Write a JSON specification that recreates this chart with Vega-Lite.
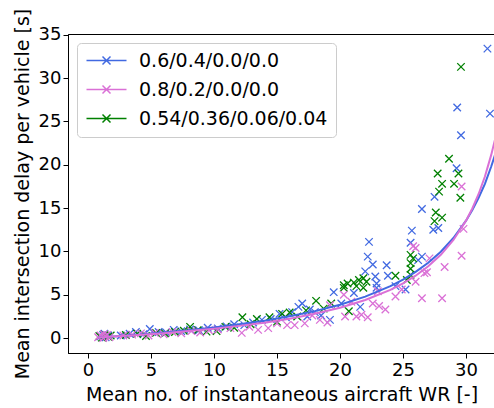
{
  "$schema": "https://vega.github.io/schema/vega-lite/v6.json",
  "width": 427,
  "height": 319,
  "autosize": {"type": "none"},
  "padding": {"left": 68, "top": 34, "right": 0, "bottom": 55},
  "background": "white",
  "config": {
    "font": "DejaVu Sans",
    "view": {"stroke": "black", "strokeWidth": 1},
    "axis": {
      "grid": false,
      "domainColor": "black",
      "tickColor": "black",
      "tickSize": 5,
      "tickWidth": 1,
      "labelFontSize": 18,
      "labelColor": "black",
      "titleFontSize": 19,
      "titleFontWeight": "normal",
      "titleColor": "black",
      "labelFont": "DejaVu Sans",
      "titleFont": "DejaVu Sans"
    }
  },
  "datasets": {
    "pts": [
      {"x": 1.0, "y": 0.2, "mix": "0.6/0.4/0.0/0.0"},
      {"x": 1.2, "y": 0.35, "mix": "0.6/0.4/0.0/0.0"},
      {"x": 1.4, "y": 0.1, "mix": "0.6/0.4/0.0/0.0"},
      {"x": 1.6, "y": 0.3, "mix": "0.6/0.4/0.0/0.0"},
      {"x": 1.3, "y": 0.5, "mix": "0.6/0.4/0.0/0.0"},
      {"x": 2.6, "y": 0.3, "mix": "0.6/0.4/0.0/0.0"},
      {"x": 3.3, "y": 0.5, "mix": "0.6/0.4/0.0/0.0"},
      {"x": 3.8, "y": 0.7, "mix": "0.6/0.4/0.0/0.0"},
      {"x": 4.4, "y": 0.45, "mix": "0.6/0.4/0.0/0.0"},
      {"x": 4.9, "y": 1.05, "mix": "0.6/0.4/0.0/0.0"},
      {"x": 5.6, "y": 0.7, "mix": "0.6/0.4/0.0/0.0"},
      {"x": 6.2, "y": 0.65, "mix": "0.6/0.4/0.0/0.0"},
      {"x": 6.8, "y": 0.95, "mix": "0.6/0.4/0.0/0.0"},
      {"x": 7.4, "y": 0.8, "mix": "0.6/0.4/0.0/0.0"},
      {"x": 8.1, "y": 1.0, "mix": "0.6/0.4/0.0/0.0"},
      {"x": 8.8, "y": 0.9, "mix": "0.6/0.4/0.0/0.0"},
      {"x": 9.5, "y": 1.2, "mix": "0.6/0.4/0.0/0.0"},
      {"x": 10.3, "y": 1.1, "mix": "0.6/0.4/0.0/0.0"},
      {"x": 11.0, "y": 1.35, "mix": "0.6/0.4/0.0/0.0"},
      {"x": 11.6, "y": 1.6, "mix": "0.6/0.4/0.0/0.0"},
      {"x": 12.4, "y": 1.5, "mix": "0.6/0.4/0.0/0.0"},
      {"x": 13.1, "y": 1.8, "mix": "0.6/0.4/0.0/0.0"},
      {"x": 13.8, "y": 2.1, "mix": "0.6/0.4/0.0/0.0"},
      {"x": 14.5, "y": 2.2, "mix": "0.6/0.4/0.0/0.0"},
      {"x": 15.2, "y": 2.8, "mix": "0.6/0.4/0.0/0.0"},
      {"x": 15.7, "y": 2.4, "mix": "0.6/0.4/0.0/0.0"},
      {"x": 16.2, "y": 3.0, "mix": "0.6/0.4/0.0/0.0"},
      {"x": 16.7, "y": 3.6, "mix": "0.6/0.4/0.0/0.0"},
      {"x": 17.0, "y": 4.0, "mix": "0.6/0.4/0.0/0.0"},
      {"x": 17.4, "y": 2.5, "mix": "0.6/0.4/0.0/0.0"},
      {"x": 17.6, "y": 3.3, "mix": "0.6/0.4/0.0/0.0"},
      {"x": 18.0, "y": 3.0, "mix": "0.6/0.4/0.0/0.0"},
      {"x": 18.5, "y": 2.6, "mix": "0.6/0.4/0.0/0.0"},
      {"x": 19.2, "y": 2.1, "mix": "0.6/0.4/0.0/0.0"},
      {"x": 19.5, "y": 5.3, "mix": "0.6/0.4/0.0/0.0"},
      {"x": 20.1, "y": 4.0, "mix": "0.6/0.4/0.0/0.0"},
      {"x": 21.1, "y": 5.2, "mix": "0.6/0.4/0.0/0.0"},
      {"x": 21.6, "y": 3.6, "mix": "0.6/0.4/0.0/0.0"},
      {"x": 22.0, "y": 7.7, "mix": "0.6/0.4/0.0/0.0"},
      {"x": 22.2, "y": 9.4, "mix": "0.6/0.4/0.0/0.0"},
      {"x": 22.3, "y": 11.1, "mix": "0.6/0.4/0.0/0.0"},
      {"x": 22.6, "y": 8.5, "mix": "0.6/0.4/0.0/0.0"},
      {"x": 22.8, "y": 7.1, "mix": "0.6/0.4/0.0/0.0"},
      {"x": 22.9, "y": 6.3, "mix": "0.6/0.4/0.0/0.0"},
      {"x": 22.9, "y": 5.8, "mix": "0.6/0.4/0.0/0.0"},
      {"x": 23.7, "y": 8.4, "mix": "0.6/0.4/0.0/0.0"},
      {"x": 23.8, "y": 7.2, "mix": "0.6/0.4/0.0/0.0"},
      {"x": 24.4, "y": 6.0, "mix": "0.6/0.4/0.0/0.0"},
      {"x": 25.2, "y": 5.6, "mix": "0.6/0.4/0.0/0.0"},
      {"x": 25.6, "y": 11.0, "mix": "0.6/0.4/0.0/0.0"},
      {"x": 25.7, "y": 12.4, "mix": "0.6/0.4/0.0/0.0"},
      {"x": 26.2, "y": 9.0, "mix": "0.6/0.4/0.0/0.0"},
      {"x": 26.5, "y": 9.4, "mix": "0.6/0.4/0.0/0.0"},
      {"x": 26.5, "y": 14.9, "mix": "0.6/0.4/0.0/0.0"},
      {"x": 27.4, "y": 12.5, "mix": "0.6/0.4/0.0/0.0"},
      {"x": 27.8, "y": 12.7, "mix": "0.6/0.4/0.0/0.0"},
      {"x": 27.5, "y": 16.3, "mix": "0.6/0.4/0.0/0.0"},
      {"x": 29.25, "y": 19.6, "mix": "0.6/0.4/0.0/0.0"},
      {"x": 29.3, "y": 26.6, "mix": "0.6/0.4/0.0/0.0"},
      {"x": 29.6, "y": 23.4, "mix": "0.6/0.4/0.0/0.0"},
      {"x": 31.7, "y": 33.4, "mix": "0.6/0.4/0.0/0.0"},
      {"x": 31.9, "y": 25.9, "mix": "0.6/0.4/0.0/0.0"},
      {"x": 0.9, "y": 0.25, "mix": "0.54/0.36/0.06/0.04"},
      {"x": 1.1, "y": 0.05, "mix": "0.54/0.36/0.06/0.04"},
      {"x": 1.3, "y": 0.4, "mix": "0.54/0.36/0.06/0.04"},
      {"x": 1.6, "y": 0.15, "mix": "0.54/0.36/0.06/0.04"},
      {"x": 1.8, "y": 0.3, "mix": "0.54/0.36/0.06/0.04"},
      {"x": 3.0, "y": 0.35, "mix": "0.54/0.36/0.06/0.04"},
      {"x": 3.9, "y": 0.5, "mix": "0.54/0.36/0.06/0.04"},
      {"x": 4.6, "y": 0.25, "mix": "0.54/0.36/0.06/0.04"},
      {"x": 5.4, "y": 0.6, "mix": "0.54/0.36/0.06/0.04"},
      {"x": 6.1, "y": 0.55, "mix": "0.54/0.36/0.06/0.04"},
      {"x": 6.9, "y": 0.7, "mix": "0.54/0.36/0.06/0.04"},
      {"x": 7.6, "y": 0.85, "mix": "0.54/0.36/0.06/0.04"},
      {"x": 8.1, "y": 1.3, "mix": "0.54/0.36/0.06/0.04"},
      {"x": 8.7, "y": 0.9, "mix": "0.54/0.36/0.06/0.04"},
      {"x": 9.4, "y": 0.75, "mix": "0.54/0.36/0.06/0.04"},
      {"x": 10.2, "y": 0.8, "mix": "0.54/0.36/0.06/0.04"},
      {"x": 10.9, "y": 1.3, "mix": "0.54/0.36/0.06/0.04"},
      {"x": 11.6, "y": 1.2, "mix": "0.54/0.36/0.06/0.04"},
      {"x": 12.25, "y": 2.4, "mix": "0.54/0.36/0.06/0.04"},
      {"x": 12.9, "y": 1.6, "mix": "0.54/0.36/0.06/0.04"},
      {"x": 13.4, "y": 2.2, "mix": "0.54/0.36/0.06/0.04"},
      {"x": 14.4, "y": 2.4, "mix": "0.54/0.36/0.06/0.04"},
      {"x": 15.0, "y": 1.9, "mix": "0.54/0.36/0.06/0.04"},
      {"x": 15.4, "y": 2.8, "mix": "0.54/0.36/0.06/0.04"},
      {"x": 16.0, "y": 2.95, "mix": "0.54/0.36/0.06/0.04"},
      {"x": 16.6, "y": 2.5, "mix": "0.54/0.36/0.06/0.04"},
      {"x": 17.3, "y": 3.2, "mix": "0.54/0.36/0.06/0.04"},
      {"x": 18.1, "y": 4.3, "mix": "0.54/0.36/0.06/0.04"},
      {"x": 18.7, "y": 3.4, "mix": "0.54/0.36/0.06/0.04"},
      {"x": 19.3, "y": 4.0, "mix": "0.54/0.36/0.06/0.04"},
      {"x": 20.3, "y": 5.8, "mix": "0.54/0.36/0.06/0.04"},
      {"x": 20.3, "y": 6.1, "mix": "0.54/0.36/0.06/0.04"},
      {"x": 20.6, "y": 6.3, "mix": "0.54/0.36/0.06/0.04"},
      {"x": 20.7, "y": 3.1, "mix": "0.54/0.36/0.06/0.04"},
      {"x": 21.1, "y": 6.4, "mix": "0.54/0.36/0.06/0.04"},
      {"x": 21.3, "y": 6.0, "mix": "0.54/0.36/0.06/0.04"},
      {"x": 21.5, "y": 6.7, "mix": "0.54/0.36/0.06/0.04"},
      {"x": 21.85, "y": 6.9, "mix": "0.54/0.36/0.06/0.04"},
      {"x": 21.85, "y": 5.8, "mix": "0.54/0.36/0.06/0.04"},
      {"x": 22.1, "y": 6.5, "mix": "0.54/0.36/0.06/0.04"},
      {"x": 24.4, "y": 7.2, "mix": "0.54/0.36/0.06/0.04"},
      {"x": 25.3, "y": 6.7, "mix": "0.54/0.36/0.06/0.04"},
      {"x": 25.6, "y": 9.6, "mix": "0.54/0.36/0.06/0.04"},
      {"x": 25.8, "y": 9.2, "mix": "0.54/0.36/0.06/0.04"},
      {"x": 25.6, "y": 8.65, "mix": "0.54/0.36/0.06/0.04"},
      {"x": 25.6, "y": 8.0, "mix": "0.54/0.36/0.06/0.04"},
      {"x": 25.6, "y": 7.3, "mix": "0.54/0.36/0.06/0.04"},
      {"x": 27.5, "y": 13.5, "mix": "0.54/0.36/0.06/0.04"},
      {"x": 27.6, "y": 14.5, "mix": "0.54/0.36/0.06/0.04"},
      {"x": 27.75, "y": 19.0, "mix": "0.54/0.36/0.06/0.04"},
      {"x": 27.86, "y": 16.9, "mix": "0.54/0.36/0.06/0.04"},
      {"x": 28.1, "y": 17.8, "mix": "0.54/0.36/0.06/0.04"},
      {"x": 28.1, "y": 13.9, "mix": "0.54/0.36/0.06/0.04"},
      {"x": 28.65, "y": 20.7, "mix": "0.54/0.36/0.06/0.04"},
      {"x": 29.05, "y": 17.8, "mix": "0.54/0.36/0.06/0.04"},
      {"x": 29.4, "y": 19.0, "mix": "0.54/0.36/0.06/0.04"},
      {"x": 29.55, "y": 16.2, "mix": "0.54/0.36/0.06/0.04"},
      {"x": 29.6, "y": 31.3, "mix": "0.54/0.36/0.06/0.04"},
      {"x": 0.8, "y": 0.1, "mix": "0.8/0.2/0.0/0.0"},
      {"x": 1.0, "y": 0.3, "mix": "0.8/0.2/0.0/0.0"},
      {"x": 1.2, "y": 0.0, "mix": "0.8/0.2/0.0/0.0"},
      {"x": 1.35, "y": 0.2, "mix": "0.8/0.2/0.0/0.0"},
      {"x": 1.5, "y": 0.35, "mix": "0.8/0.2/0.0/0.0"},
      {"x": 1.7, "y": 0.1, "mix": "0.8/0.2/0.0/0.0"},
      {"x": 1.25, "y": 0.45, "mix": "0.8/0.2/0.0/0.0"},
      {"x": 2.8, "y": 0.3, "mix": "0.8/0.2/0.0/0.0"},
      {"x": 3.5, "y": 0.4, "mix": "0.8/0.2/0.0/0.0"},
      {"x": 4.2, "y": 0.55, "mix": "0.8/0.2/0.0/0.0"},
      {"x": 4.8, "y": 0.3, "mix": "0.8/0.2/0.0/0.0"},
      {"x": 5.3, "y": 0.6, "mix": "0.8/0.2/0.0/0.0"},
      {"x": 6.0, "y": 0.45, "mix": "0.8/0.2/0.0/0.0"},
      {"x": 6.7, "y": 0.7, "mix": "0.8/0.2/0.0/0.0"},
      {"x": 7.4, "y": 0.55, "mix": "0.8/0.2/0.0/0.0"},
      {"x": 8.2, "y": 0.8, "mix": "0.8/0.2/0.0/0.0"},
      {"x": 8.9, "y": 0.65, "mix": "0.8/0.2/0.0/0.0"},
      {"x": 9.6, "y": 0.9, "mix": "0.8/0.2/0.0/0.0"},
      {"x": 10.3, "y": 1.0, "mix": "0.8/0.2/0.0/0.0"},
      {"x": 11.3, "y": 1.15, "mix": "0.8/0.2/0.0/0.0"},
      {"x": 12.2, "y": 0.6, "mix": "0.8/0.2/0.0/0.0"},
      {"x": 12.8, "y": 1.3, "mix": "0.8/0.2/0.0/0.0"},
      {"x": 13.5, "y": 0.95, "mix": "0.8/0.2/0.0/0.0"},
      {"x": 14.3, "y": 1.15, "mix": "0.8/0.2/0.0/0.0"},
      {"x": 15.0, "y": 1.7, "mix": "0.8/0.2/0.0/0.0"},
      {"x": 15.8, "y": 1.5, "mix": "0.8/0.2/0.0/0.0"},
      {"x": 16.4, "y": 1.5, "mix": "0.8/0.2/0.0/0.0"},
      {"x": 17.2, "y": 1.7, "mix": "0.8/0.2/0.0/0.0"},
      {"x": 17.8, "y": 2.6, "mix": "0.8/0.2/0.0/0.0"},
      {"x": 18.4, "y": 2.1, "mix": "0.8/0.2/0.0/0.0"},
      {"x": 19.2, "y": 3.8, "mix": "0.8/0.2/0.0/0.0"},
      {"x": 19.0, "y": 1.8, "mix": "0.8/0.2/0.0/0.0"},
      {"x": 20.3, "y": 5.0, "mix": "0.8/0.2/0.0/0.0"},
      {"x": 20.4, "y": 2.5, "mix": "0.8/0.2/0.0/0.0"},
      {"x": 20.9, "y": 4.2, "mix": "0.8/0.2/0.0/0.0"},
      {"x": 21.3, "y": 2.5, "mix": "0.8/0.2/0.0/0.0"},
      {"x": 21.7, "y": 2.7, "mix": "0.8/0.2/0.0/0.0"},
      {"x": 22.2, "y": 2.4, "mix": "0.8/0.2/0.0/0.0"},
      {"x": 22.6, "y": 4.0, "mix": "0.8/0.2/0.0/0.0"},
      {"x": 23.0, "y": 5.4, "mix": "0.8/0.2/0.0/0.0"},
      {"x": 23.1, "y": 3.7, "mix": "0.8/0.2/0.0/0.0"},
      {"x": 23.6, "y": 3.3, "mix": "0.8/0.2/0.0/0.0"},
      {"x": 24.4, "y": 4.8, "mix": "0.8/0.2/0.0/0.0"},
      {"x": 24.9, "y": 5.6, "mix": "0.8/0.2/0.0/0.0"},
      {"x": 25.8, "y": 10.6, "mix": "0.8/0.2/0.0/0.0"},
      {"x": 26.0, "y": 10.4, "mix": "0.8/0.2/0.0/0.0"},
      {"x": 26.0, "y": 6.5, "mix": "0.8/0.2/0.0/0.0"},
      {"x": 26.5, "y": 4.6, "mix": "0.8/0.2/0.0/0.0"},
      {"x": 26.7, "y": 7.5, "mix": "0.8/0.2/0.0/0.0"},
      {"x": 26.9, "y": 7.6, "mix": "0.8/0.2/0.0/0.0"},
      {"x": 27.1, "y": 9.2, "mix": "0.8/0.2/0.0/0.0"},
      {"x": 28.1, "y": 4.6, "mix": "0.8/0.2/0.0/0.0"},
      {"x": 28.3, "y": 8.2, "mix": "0.8/0.2/0.0/0.0"},
      {"x": 29.65, "y": 9.5, "mix": "0.8/0.2/0.0/0.0"},
      {"x": 29.65, "y": 17.5, "mix": "0.8/0.2/0.0/0.0"},
      {"x": 29.8, "y": 12.6, "mix": "0.8/0.2/0.0/0.0"}
    ],
    "fit": [
      {"x": 0.8, "y": 0.07, "mix": "0.6/0.4/0.0/0.0"},
      {"x": 2, "y": 0.19, "mix": "0.6/0.4/0.0/0.0"},
      {"x": 4, "y": 0.4, "mix": "0.6/0.4/0.0/0.0"},
      {"x": 6, "y": 0.64, "mix": "0.6/0.4/0.0/0.0"},
      {"x": 8, "y": 0.91, "mix": "0.6/0.4/0.0/0.0"},
      {"x": 10, "y": 1.22, "mix": "0.6/0.4/0.0/0.0"},
      {"x": 12, "y": 1.59, "mix": "0.6/0.4/0.0/0.0"},
      {"x": 14, "y": 2.01, "mix": "0.6/0.4/0.0/0.0"},
      {"x": 16, "y": 2.51, "mix": "0.6/0.4/0.0/0.0"},
      {"x": 18, "y": 3.11, "mix": "0.6/0.4/0.0/0.0"},
      {"x": 20, "y": 3.85, "mix": "0.6/0.4/0.0/0.0"},
      {"x": 22, "y": 4.79, "mix": "0.6/0.4/0.0/0.0"},
      {"x": 24, "y": 6.0, "mix": "0.6/0.4/0.0/0.0"},
      {"x": 25, "y": 6.75, "mix": "0.6/0.4/0.0/0.0"},
      {"x": 26, "y": 7.64, "mix": "0.6/0.4/0.0/0.0"},
      {"x": 27, "y": 8.69, "mix": "0.6/0.4/0.0/0.0"},
      {"x": 28, "y": 9.97, "mix": "0.6/0.4/0.0/0.0"},
      {"x": 29, "y": 11.55, "mix": "0.6/0.4/0.0/0.0"},
      {"x": 30, "y": 13.55, "mix": "0.6/0.4/0.0/0.0"},
      {"x": 30.5, "y": 14.77, "mix": "0.6/0.4/0.0/0.0"},
      {"x": 31, "y": 16.2, "mix": "0.6/0.4/0.0/0.0"},
      {"x": 31.5, "y": 17.8, "mix": "0.6/0.4/0.0/0.0"},
      {"x": 32, "y": 19.8, "mix": "0.6/0.4/0.0/0.0"},
      {"x": 32.4, "y": 21.6, "mix": "0.6/0.4/0.0/0.0"},
      {"x": 0.8, "y": 0.06, "mix": "0.8/0.2/0.0/0.0"},
      {"x": 2, "y": 0.17, "mix": "0.8/0.2/0.0/0.0"},
      {"x": 4, "y": 0.35, "mix": "0.8/0.2/0.0/0.0"},
      {"x": 6, "y": 0.57, "mix": "0.8/0.2/0.0/0.0"},
      {"x": 8, "y": 0.81, "mix": "0.8/0.2/0.0/0.0"},
      {"x": 10, "y": 1.09, "mix": "0.8/0.2/0.0/0.0"},
      {"x": 12, "y": 1.41, "mix": "0.8/0.2/0.0/0.0"},
      {"x": 14, "y": 1.78, "mix": "0.8/0.2/0.0/0.0"},
      {"x": 16, "y": 2.22, "mix": "0.8/0.2/0.0/0.0"},
      {"x": 18, "y": 2.81, "mix": "0.8/0.2/0.0/0.0"},
      {"x": 20, "y": 3.5, "mix": "0.8/0.2/0.0/0.0"},
      {"x": 22, "y": 4.39, "mix": "0.8/0.2/0.0/0.0"},
      {"x": 24, "y": 5.56, "mix": "0.8/0.2/0.0/0.0"},
      {"x": 25, "y": 6.31, "mix": "0.8/0.2/0.0/0.0"},
      {"x": 26, "y": 7.2, "mix": "0.8/0.2/0.0/0.0"},
      {"x": 27, "y": 8.28, "mix": "0.8/0.2/0.0/0.0"},
      {"x": 28, "y": 9.61, "mix": "0.8/0.2/0.0/0.0"},
      {"x": 29, "y": 11.32, "mix": "0.8/0.2/0.0/0.0"},
      {"x": 30, "y": 13.55, "mix": "0.8/0.2/0.0/0.0"},
      {"x": 30.5, "y": 14.96, "mix": "0.8/0.2/0.0/0.0"},
      {"x": 31, "y": 16.63, "mix": "0.8/0.2/0.0/0.0"},
      {"x": 31.5, "y": 18.65, "mix": "0.8/0.2/0.0/0.0"},
      {"x": 32, "y": 21.14, "mix": "0.8/0.2/0.0/0.0"},
      {"x": 32.4, "y": 23.5, "mix": "0.8/0.2/0.0/0.0"}
    ]
  },
  "encoding": {
    "x": {
      "field": "x", "type": "quantitative",
      "scale": {"domain": [-1.59, 32.3], "nice": false, "zero": false},
      "axis": {"title": "Mean no. of instantaneous aircraft WR [-]", "values": [0, 5, 10, 15, 20, 25, 30], "format": "d", "labelPadding": 3, "titlePadding": 6}
    },
    "y": {
      "field": "y", "type": "quantitative",
      "scale": {"domain": [-1.72, 35.09], "nice": false, "zero": false},
      "axis": {"title": "Mean intersection delay per vehicle [s]", "values": [0, 5, 10, 15, 20, 25, 30, 35], "format": "d", "labelPadding": 2, "titlePadding": 6}
    },
    "color": {
      "field": "mix", "type": "nominal",
      "scale": {"domain": ["0.6/0.4/0.0/0.0", "0.8/0.2/0.0/0.0", "0.54/0.36/0.06/0.04"], "range": ["#4169E1", "#DA70D6", "#008000"]},
      "legend": {
        "title": null,
        "orient": "none",
        "legendX": 9,
        "legendY": 9,
        "padding": 8,
        "symbolType": "M-1.6,0H6.4M1.6,-0.8L3.2,0.8M1.6,0.8L3.2,-0.8",
        "symbolSize": 100,
        "symbolStrokeWidth": 1.5,
        "symbolFillColor": "transparent",
        "labelFontSize": 19,
        "labelFont": "DejaVu Sans",
        "labelColor": "black",
        "labelOffset": 35,
        "labelLimit": 400,
        "rowPadding": 9,
        "fillColor": "white",
        "strokeColor": "#cccccc",
        "cornerRadius": 4
      }
    }
  },
  "layer": [
    {
      "data": {"name": "pts"},
      "mark": {"type": "point", "shape": "M-1,-1L1,1M-1,1L1,-1", "filled": false, "size": 56, "strokeWidth": 1.3, "opacity": 1, "clip": true}
    },
    {
      "data": {"name": "fit"},
      "mark": {"type": "line", "strokeWidth": 2, "clip": true}
    }
  ]
}
